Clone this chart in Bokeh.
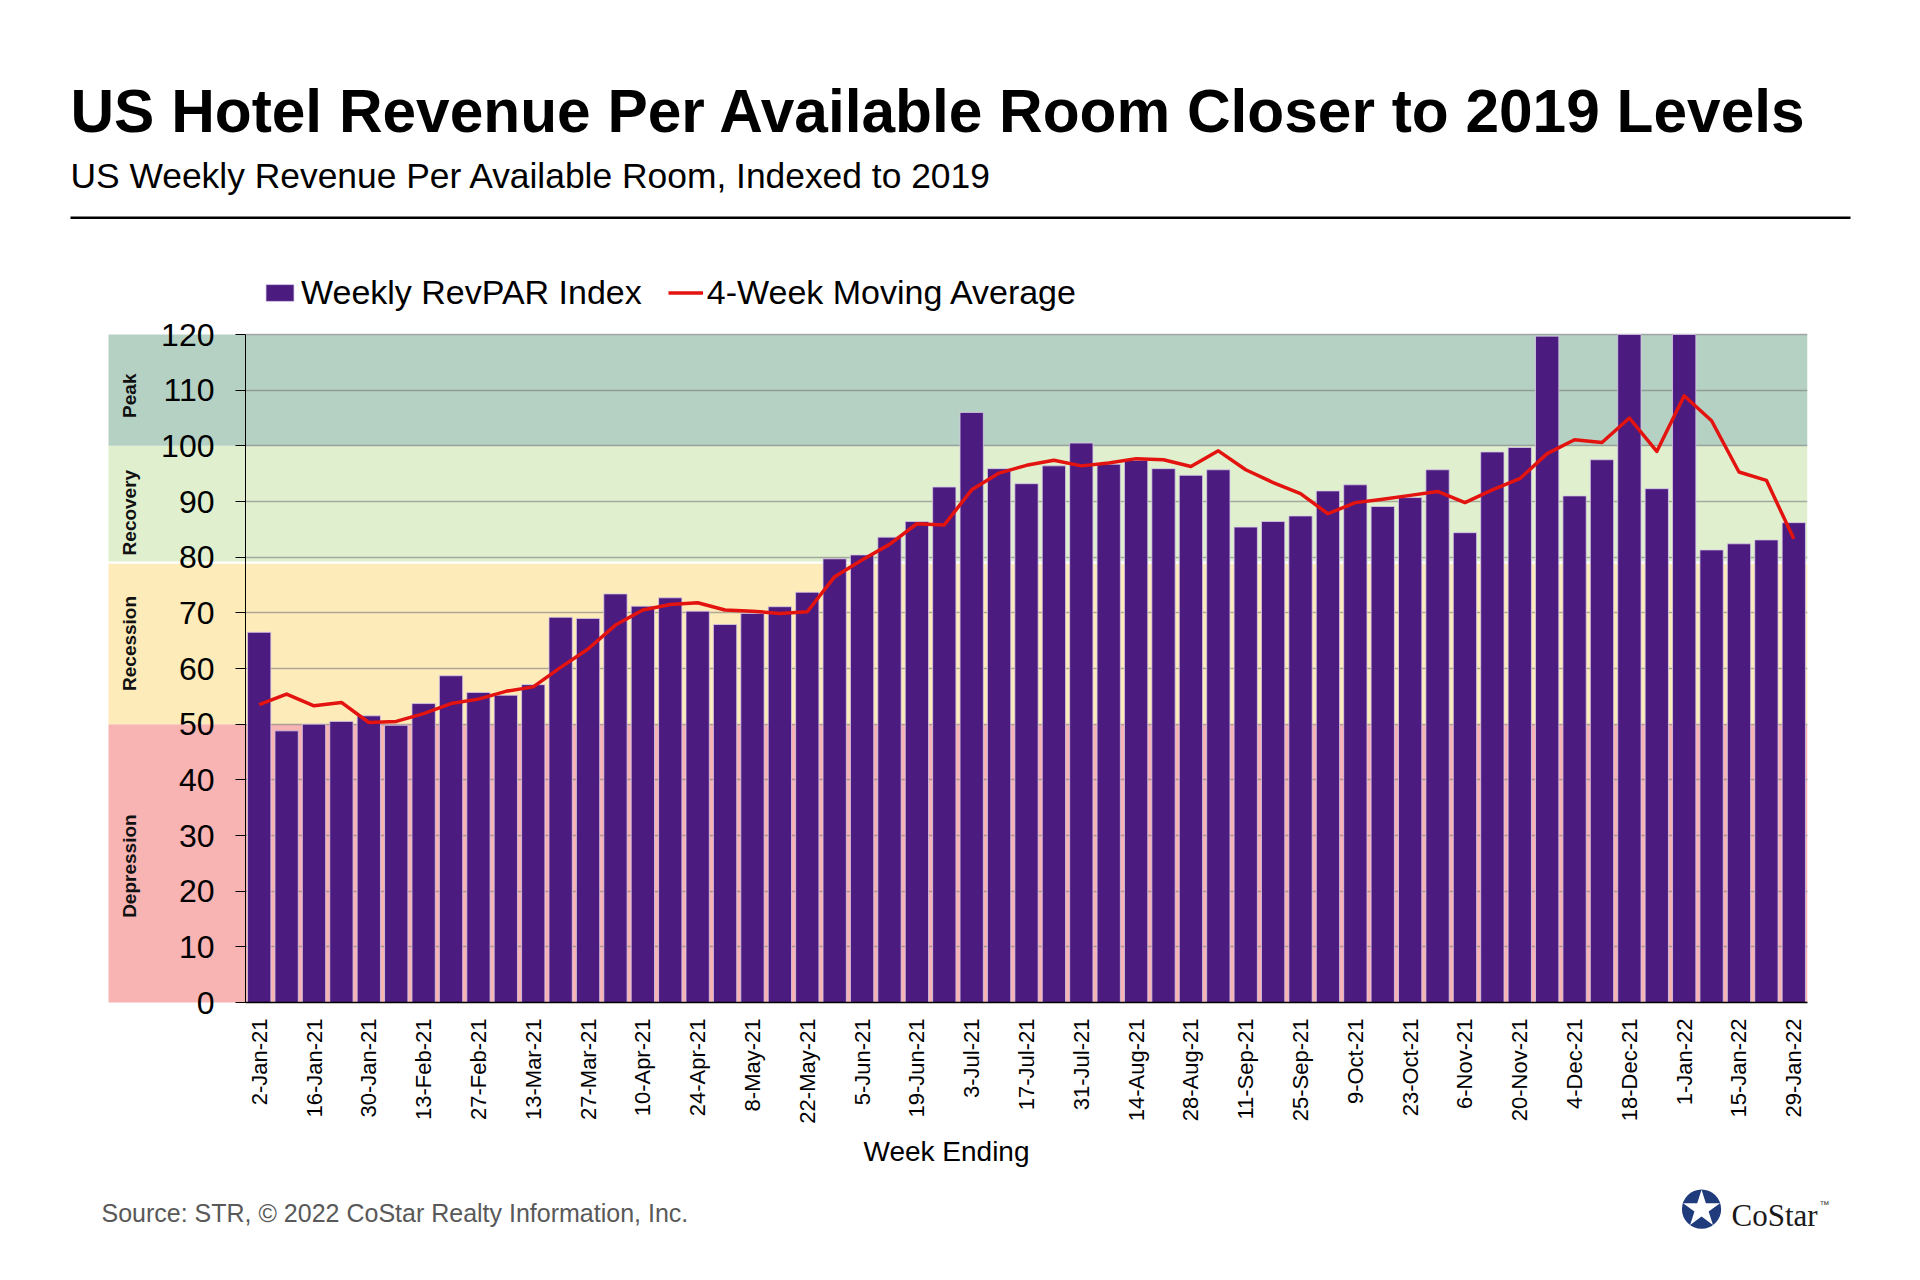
import numpy as np
from bokeh.plotting import figure
from bokeh.models import (Range1d, FixedTicker, SingleIntervalTicker, BoxAnnotation,
                          Legend, LegendItem)
from bokeh.core.properties import value
from bokeh.embed import file_html
from bokeh.resources import INLINE

# data (bars above 120 are cut at the top of the chart)
weeks = ["2-Jan-21", "9-Jan-21", "16-Jan-21", "23-Jan-21", "30-Jan-21", "6-Feb-21",
         "13-Feb-21", "20-Feb-21", "27-Feb-21", "6-Mar-21", "13-Mar-21", "20-Mar-21",
         "27-Mar-21", "3-Apr-21", "10-Apr-21", "17-Apr-21", "24-Apr-21", "1-May-21",
         "8-May-21", "15-May-21", "22-May-21", "29-May-21", "5-Jun-21", "12-Jun-21",
         "19-Jun-21", "26-Jun-21", "3-Jul-21", "10-Jul-21", "17-Jul-21", "24-Jul-21",
         "31-Jul-21", "7-Aug-21", "14-Aug-21", "21-Aug-21", "28-Aug-21", "4-Sep-21",
         "11-Sep-21", "18-Sep-21", "25-Sep-21", "2-Oct-21", "9-Oct-21", "16-Oct-21",
         "23-Oct-21", "30-Oct-21", "6-Nov-21", "13-Nov-21", "20-Nov-21", "27-Nov-21",
         "4-Dec-21", "11-Dec-21", "18-Dec-21", "25-Dec-21", "1-Jan-22", "8-Jan-22",
         "15-Jan-22", "22-Jan-22", "29-Jan-22"]

revpar_index = [66.5, 48.8, 50.0, 50.5, 51.5, 49.8, 53.7, 58.7, 55.7, 55.2,
                57.1, 69.2, 69.0, 73.4, 71.2, 72.7, 70.3, 67.9, 69.9, 71.1,
                73.7, 79.7, 80.4, 83.6, 86.4, 92.6, 106.0, 95.9, 93.2, 96.4,
                100.5, 96.7, 97.4, 95.9, 94.7, 95.7, 85.4, 86.4, 87.4, 91.9,
                93.0, 89.1, 90.7, 95.7, 84.4, 98.9, 99.7, 119.7, 91.0, 97.5,
                120.0, 92.3, 120.0, 81.3, 82.4, 83.1, 86.2]

moving_avg = [53.5, 55.4, 53.3, 53.9, 50.3, 50.5, 51.9, 53.7, 54.5, 55.9,
              56.7, 60.2, 63.5, 67.8, 70.5, 71.5, 71.8, 70.5, 70.3, 69.9,
              70.2, 76.5, 79.5, 82.3, 86.0, 85.8, 92.1, 95.1, 96.5, 97.4,
              96.4, 96.9, 97.7, 97.5, 96.3, 99.1, 95.7, 93.4, 91.4, 87.8,
              89.8, 90.4, 91.1, 91.8, 89.8, 92.1, 94.1, 98.6, 101.1, 100.6,
              105.0, 99.0, 109.0, 104.5, 95.3, 93.8, 83.3]

band_names = ["Depression", "Recession", "Recovery", "Peak"]
band_bottoms = [0, 50, 79.2, 100]
band_tops = [50, 78.8, 100, 120]
band_label_y = [24.5, 64.5, 88, 109]
band_colors = ["#F8B3B3", "#FDEBB9", "#E0F0CF", "#B5D1C4"]

FONT = "Liberation Sans"

# page geometry in reference pixels
W, H = 1904, 1264
FL, FR, FB = 245, 1807, 1002   # plot area left, right, bottom (value 0)
Y120 = 334                      # pixel row of the value 120
FT = 268                        # frame top: leaves room for the legend inside the frame
YMAX = 120
slot = (FR - FL) / len(weeks)
unit = (FB - Y120) / YMAX


def dx(px):  # reference pixel x -> data x
    return -0.5 + (px - FL) / slot


def dy(py):  # reference pixel y -> data y
    return (FB - py) / unit


pos = list(range(len(weeks)))

p = figure(width=W, height=H, title=None,
           x_range=Range1d(-0.5, len(weeks) - 0.5), y_range=Range1d(0, dy(FT)),
           output_backend="svg", toolbar_location=None,
           min_border_left=FL, min_border_right=W - FR,
           min_border_top=FT, min_border_bottom=H - FB)
p.outline_line_color = None
p.background_fill_color = "white"
p.border_fill_color = "white"

# coloured bands inside the plot area, drawn under the grid
inner = []
for b, t, c in zip(band_bottoms, band_tops, band_colors):
    inner.append(BoxAnnotation(bottom=b, top=t, fill_color=c, fill_alpha=1.0,
                               line_color=None, level="underlay"))
p.center = inner + list(p.center)

bars = p.vbar(x=pos, top=revpar_index, width=0.85, fill_color="#4B1B7F",
              line_color="#d9cbe9", line_width=0.8)
ma = p.line(x=pos, y=moving_avg, line_color="#E3130F", line_width=3.5, line_join="round")

# axes
p.xgrid.visible = False
p.ygrid.grid_line_color = "#7a7a7a"
p.ygrid.grid_line_alpha = 0.6
p.ygrid.grid_line_width = 1.3
p.ygrid.bounds = (0, YMAX)

p.yaxis.ticker = SingleIntervalTicker(interval=10, num_minor_ticks=0)
p.yaxis.bounds = (0, YMAX)
p.yaxis.major_label_text_font = FONT
p.yaxis.major_label_text_font_size = "32px"
p.yaxis.major_label_text_color = "black"
p.yaxis.major_label_standoff = 21
p.yaxis.major_tick_out = 10
p.yaxis.major_tick_in = 0
p.yaxis.major_tick_line_color = "black"
p.yaxis.minor_tick_line_color = None
p.yaxis.axis_line_color = "black"
p.yaxis.level = "overlay"

p.xaxis.ticker = FixedTicker(ticks=pos[::2])
p.xaxis.major_label_overrides = {i: weeks[i] for i in pos}
p.xaxis.major_label_orientation = np.pi / 2
p.xaxis.major_label_text_font = FONT
p.xaxis.major_label_text_font_size = "22px"
p.xaxis.major_label_text_color = "black"
p.xaxis.major_label_standoff = 16
p.xaxis.major_tick_out = 0
p.xaxis.major_tick_in = 0
p.xaxis.major_tick_line_color = None
p.xaxis.minor_tick_line_color = None
p.xaxis.axis_line_color = "black"
p.xaxis.axis_line_width = 1.5
p.xaxis.level = "overlay"

# band strip left of the y axis (annotation level is not clipped to the frame)
p.quad(left=dx(108), right=dx(FL), bottom=band_bottoms, top=band_tops,
       fill_color=band_colors, line_color=None, level="annotation")
p.text(x=[dx(129)] * len(band_names), y=band_label_y, text=band_names, angle=np.pi / 2,
       text_align="center", text_baseline="middle", text_font=value(FONT),
       text_font_style="bold", text_font_size="19px", text_color="#111111",
       level="annotation")

# legend, sitting in the white strip at the top of the frame
legend = Legend(items=[LegendItem(label="Weekly RevPAR Index", renderers=[bars]),
                       LegendItem(label="4-Week Moving Average", renderers=[ma])],
                orientation="horizontal", location=(262 - FL, FB - 312),
                label_text_font=FONT, label_text_font_size="34px", label_text_color="black",
                glyph_width=35, glyph_height=21, label_height=38, label_standoff=4,
                spacing=26, padding=0, margin=0, border_line_color=None,
                background_fill_alpha=0)
p.add_layout(legend, "center")

# titles, rule, axis title, source
p.text(x=[dx(70)], y=[dy(110)],
       text=["US Hotel Revenue Per Available Room Closer to 2019 Levels"],
       text_font=value(FONT), text_font_style="bold", text_font_size="60.4px",
       text_baseline="alphabetic", text_color="black", level="annotation")
p.text(x=[dx(70)], y=[dy(175)],
       text=["US Weekly Revenue Per Available Room, Indexed to 2019"],
       text_font=value(FONT), text_font_size="35.4px",
       text_baseline="alphabetic", text_color="black", level="annotation")
p.quad(left=[dx(70)], right=[dx(1850)], top=[dy(216)], bottom=[dy(218.5)],
       fill_color="black", line_color=None, level="annotation")
p.text(x=[dx(946)], y=[dy(1151)], text=["Week Ending"], text_font=value(FONT),
       text_font_size="28px", text_align="center", text_baseline="alphabetic",
       text_color="black", level="annotation")
p.text(x=[dx(101)], y=[dy(1212)],
       text=["Source: STR, \u00a9 2022  CoStar Realty Information, Inc."],
       text_font=value(FONT), text_font_size="25px", text_baseline="alphabetic",
       text_color="#595959", level="annotation")

# CoStar logo
p.text(x=[dx(1701)], y=[dy(1209)], text=["\u272a"], text_font=value("DejaVu Sans"),
       text_font_size="52px", text_align="center", text_baseline="middle",
       text_color="#1F3B7C", level="annotation")
p.text(x=[dx(1731)], y=[dy(1215)], text=["CoStar"], text_font=value("Liberation Serif"),
       text_font_size="31px", text_baseline="alphabetic", text_color="#1a1a1a",
       level="annotation")
p.text(x=[dx(1819)], y=[dy(1204)], text=["\u2122"], text_font=value(FONT),
       text_font_size="10px", text_baseline="alphabetic", text_color="#333333",
       level="annotation")

open("out.html", "w").write(file_html(p, INLINE))
